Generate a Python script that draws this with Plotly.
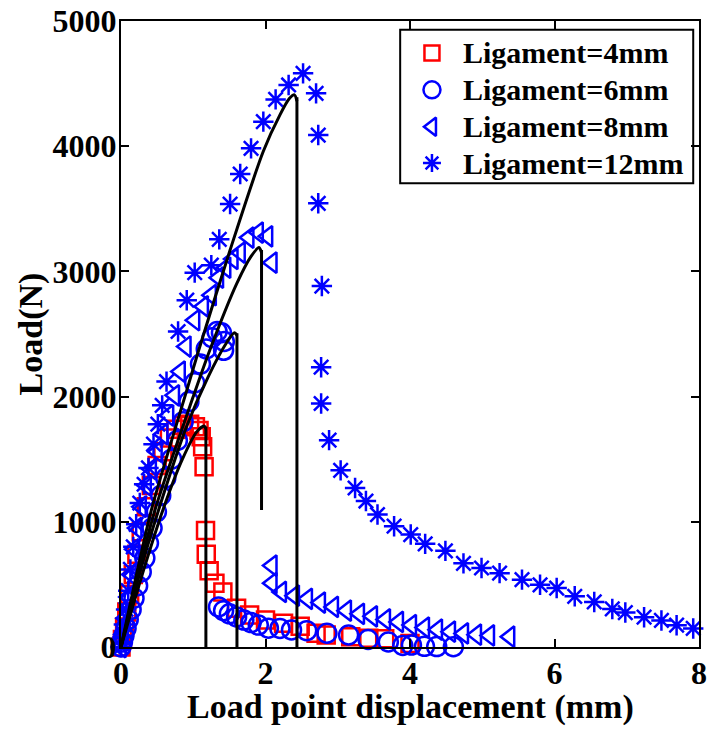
import plotly.graph_objects as go

x4 = [0, 0.02, 0.05, 0.08, 0.12, 0.17, 0.22, 0.28, 0.35, 0.42, 0.50, 0.58, 0.67, 0.76, 0.86, 0.95, 1.03, 1.08, 1.11, 1.13, 1.15,
      1.17, 1.18, 1.22, 1.30, 1.41, 1.60, 1.78, 2.00, 2.25, 2.48, 2.70, 2.84, 3.18, 3.43, 3.65, 4.00]
y4 = [0, 60, 160, 280, 420, 580, 740, 920, 1120, 1290, 1450, 1560, 1670, 1740, 1770, 1780, 1760, 1730, 1680, 1600, 1440,
      930, 740, 610, 510, 440, 310, 255, 215, 190, 165, 110, 95, 82, 70, 65, 28]

x6 = [0, 0.02, 0.04, 0.07, 0.10, 0.14, 0.18, 0.23, 0.28, 0.33, 0.38, 0.43, 0.49, 0.55, 0.62, 0.70, 0.78, 0.86, 0.94, 1.02,
      1.10, 1.18, 1.26, 1.33, 1.39, 1.43, 1.42,
      1.35, 1.42, 1.50, 1.60, 1.70, 1.80, 1.90, 2.04, 2.20, 2.36, 2.57, 2.85, 3.15, 3.42, 3.70, 3.90, 4.02, 4.20, 4.37, 4.60]
y6 = [0, 40, 90, 150, 220, 300, 390, 490, 600, 710, 830, 950, 1080, 1210, 1350, 1500, 1650, 1800, 1960, 2110,
      2260, 2380, 2470, 2520, 2510, 2440, 2370,
      320, 290, 265, 240, 215, 195, 175, 150, 148, 136, 130, 110, 96, 60, 40, 12, 15, 5, 3, 2]

x8 = [0, 0.03, 0.06, 0.10, 0.14, 0.18, 0.22, 0.28, 0.35, 0.42, 0.50, 0.58, 0.66, 0.74, 0.82, 0.90, 1.02, 1.14, 1.25, 1.35,
      1.45, 1.55, 1.65, 1.77, 1.90, 2.03, 2.09,
      2.09, 2.09, 2.22, 2.40, 2.58, 2.76, 2.94, 3.12, 3.30, 3.48, 3.66, 3.84, 4.02, 4.20, 4.38, 4.56, 4.74, 4.92, 5.10, 5.38]
y8 = [0, 100, 230, 400, 580, 780, 950, 1120, 1290, 1420, 1560, 1700, 1850, 2010, 2200, 2400, 2610, 2720, 2810, 2950,
      3030, 3100, 3150, 3270, 3310, 3280, 3070,
      650, 510, 440, 410, 385, 355, 320, 290, 265, 245, 220, 200, 175, 155, 138, 122, 108, 98, 92, 82]

x12 = [0, 0.02, 0.04, 0.07, 0.10, 0.13, 0.17, 0.21, 0.26, 0.32, 0.38, 0.45, 0.51, 0.57, 0.63, 0.79, 0.91, 1.02, 1.25, 1.36,
       1.51, 1.65, 1.80, 1.97, 2.14, 2.32, 2.52, 2.70, 2.73, 2.73, 2.78, 2.77, 2.77, 2.88, 3.04, 3.24, 3.39, 3.55, 3.78, 4.01,
       4.21, 4.49, 4.74, 4.99, 5.24, 5.55, 5.80, 6.03, 6.28, 6.55, 6.80, 6.98, 7.24, 7.48, 7.69, 7.92]
y12 = [0, 80, 180, 300, 450, 620, 800, 980, 1150, 1300, 1430, 1620, 1780, 1930, 2120, 2520, 2770, 2990, 3050, 3256,
       3538, 3778, 3983, 4196, 4374, 4489, 4582, 4422, 4089, 3544, 2883, 2235, 1945, 1652, 1411, 1270, 1166, 1058, 965, 898,
       824, 768, 668, 631, 590, 538, 497, 471, 405, 360, 304, 275, 238, 212, 174, 148]

# model curves (black lines): rising branch, then the vertical drop
m4x = [0, 0.30, 0.58, 0.85, 1.05, 1.15, 1.175]
m4y = [0, 590, 1094, 1500, 1720, 1765, 1745]
m4drop = [1760, 0]
m6x = [0, 0.26, 0.52, 0.90, 1.20, 1.45, 1.57, 1.605]
m6y = [0, 590, 1094, 1750, 2150, 2420, 2510, 2490]
m6drop = [2505, 0]
m8x = [0, 0.23, 0.47, 1.00, 1.23, 1.60, 1.80, 1.91, 1.945]
m8y = [0, 560, 1094, 2000, 2372, 2900, 3120, 3190, 3150]
m8drop = [3170, 1095]
m12x = [0, 0.20, 0.42, 0.91, 1.07, 1.51, 1.97, 2.20, 2.33, 2.40, 2.435]
m12y = [0, 540, 1094, 2050, 2360, 3171, 3960, 4250, 4380, 4410, 4360]
m12drop = [4390, 0]

labels = ["Ligament=4mm", "Ligament=6mm", "Ligament=8mm", "Ligament=12mm"]

RED = "#FF0000"
BLUE = "#0000FF"
FONT = "Liberation Serif"

symbols = ["square-open", "circle-open", "triangle-left-open", "asterisk-open"]
colors = [RED, BLUE, BLUE, BLUE]
sizes = [17, 19, 18, 17]

fig = go.Figure()

for xs, ys, name, sym, col, sz in zip([x4, x6, x8, x12], [y4, y6, y8, y12], labels, symbols, colors, sizes):
    fig.add_trace(go.Scatter(
        x=xs, y=ys, name=name, mode="markers", cliponaxis=False, showlegend=False,
        marker=dict(symbol=sym, size=sz, color=col, line=dict(color=col, width=2.5)),
    ))

for mx, my, md in [(m4x, m4y, m4drop), (m6x, m6y, m6drop), (m8x, m8y, m8drop), (m12x, m12y, m12drop)]:
    fig.add_trace(go.Scatter(
        x=mx, y=my, mode="lines", showlegend=False, hoverinfo="skip",
        line=dict(color="black", width=3, shape="spline", smoothing=0.8),
    ))
    fig.add_trace(go.Scatter(
        x=[mx[-1], mx[-1]], y=md, mode="lines", showlegend=False, hoverinfo="skip",
        line=dict(color="black", width=3),
    ))

# ---- legend drawn in paper space (overlay axes spanning the plot area) ----
leg_left, leg_right, leg_top, leg_bottom = 0.483, 0.990, 0.986, 0.741
leg_marker_x = 0.538
leg_text_x = 0.588
leg_rows = [0.949, 0.890, 0.831, 0.773]

fig.add_shape(type="rect", xref="paper", yref="paper",
              x0=leg_left, x1=leg_right, y0=leg_bottom, y1=leg_top,
              line=dict(color="black", width=2), fillcolor="white", layer="below")

for i, (name, sym, col, sz) in enumerate(zip(labels, symbols, colors, sizes)):
    fig.add_trace(go.Scatter(
        x=[leg_marker_x], y=[leg_rows[i]], xaxis="x2", yaxis="y2", mode="markers",
        showlegend=False, hoverinfo="skip", cliponaxis=False,
        marker=dict(symbol=sym, size=sz - 2, color=col, line=dict(color=col, width=2.5)),
    ))
    fig.add_annotation(x=leg_text_x, y=leg_rows[i], xref="paper", yref="paper",
                       text=name, showarrow=False, xanchor="left", yanchor="middle",
                       font=dict(family=FONT, size=30, color="black", weight="bold"))

# x-axis title placed as an annotation for exact vertical position
fig.add_annotation(x=0.5, y=-0.0965, xref="paper", yref="paper",
                   text="Load point displacement (mm)", showarrow=False,
                   xanchor="center", yanchor="middle",
                   font=dict(family=FONT, size=34, color="black", weight="bold"))

axis_common = dict(
    showline=True, linecolor="black", linewidth=2, mirror="ticks",
    ticks="inside", ticklen=8, tickwidth=2, tickcolor="black",
    showgrid=False, zeroline=False, automargin=False,
    tickfont=dict(family=FONT, size=32, color="black", weight="bold"),
)

fig.update_layout(
    width=709, height=729,
    margin=dict(l=121, r=10, t=21, b=82),
    paper_bgcolor="white", plot_bgcolor="white",
    font=dict(family=FONT, color="black", weight="bold"),
    xaxis=dict(range=[0, 8], tickvals=[0, 2, 4, 6, 8], ticklabelstandoff=-3,
               **axis_common),
    yaxis=dict(range=[0, 5000], tickvals=[0, 1000, 2000, 3000, 4000, 5000], ticklabelstandoff=-4,
               title=dict(text="Load(N)", standoff=0,
                          font=dict(family=FONT, size=34, color="black", weight="bold")),
               **axis_common),
    xaxis2=dict(overlaying="x", range=[0, 1], visible=False, fixedrange=True),
    yaxis2=dict(overlaying="y", range=[0, 1], visible=False, fixedrange=True),
    showlegend=False,
)

fig.write_html("out.html")
